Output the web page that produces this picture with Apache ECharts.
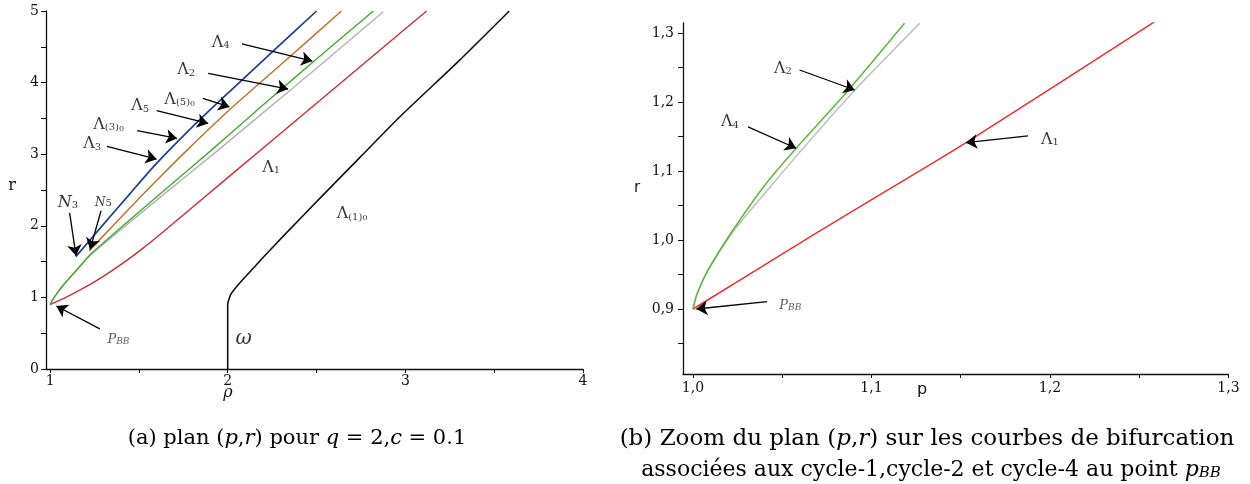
<!DOCTYPE html>
<html><head><meta charset="utf-8">
<script src="https://cdn.jsdelivr.net/npm/echarts@6/dist/echarts.min.js"></script>
<style>html,body{margin:0;padding:0;background:#fff}#c{width:1250px;height:484px}</style>
</head><body><div id="c"></div>
<script>
// ===== Panel (a): plan (p,r)
const aXLabels = [1, 2, 3, 4];
const aXTicks = [1, 1.5, 2, 2.5, 3, 3.5, 4];
const aYLabels = [0, 1, 2, 3, 4, 5];
const aYTicks = [0, 0.5, 1, 1.5, 2, 2.5, 3, 3.5, 4, 4.5, 5];

const aBlue  = [[1.145,1.57],[1.3,2.02],[1.45,2.45],[1.58,2.82],[1.7,3.13],[1.85,3.5],[2.0,3.85],[2.26,4.45],[2.5,5.0]];
const aBrown = [[1.22,1.65],[1.35,1.99],[1.5,2.38],[1.63,2.71],[1.764,3.04],[2.01,3.62],[2.335,4.33],[2.64,5.0]];
const aGreen = [[1,0.9],[1.0225,1.0],[1.079,1.186],[1.154,1.395],[1.229,1.605],[1.4,1.98],[1.65,2.51],[1.905,3.05],[2.2,3.69],[2.5,4.33],[2.82,5.0]];
const aGray  = [[1,0.9],[1.0225,0.998],[1.079,1.183],[1.154,1.39],[1.229,1.595],[1.4,1.95],[1.65,2.46],[1.943,3.05],[2.2,3.58],[2.5,4.2],[2.876,4.99]];
const aRed   = [[1,0.9],[1.1,1.015],[1.2,1.146],[1.3,1.295],[1.4,1.46],[1.5,1.643],[1.6,1.84],[2.0,2.672],[2.5,3.712],[3.0,4.752],[3.12,5.0]];
const aBlack = [[2,0],[2,0.9],[2.005,0.96],[2.018,1.045],[2.04,1.12],[2.093,1.27],[2.2,1.56],[2.318,1.87],[2.521,2.39],[2.75,2.97],[2.972,3.53],[3.3,4.3],[3.585,5.0]];

// annotation labels [p, r, text] and arrows [p1, r1, p2, r2]
const aNotes = [
  [1.96, 4.59, '{L|Λ}{s|4}'],
  [1.766, 4.2, '{L|Λ}{s|2}'],
  [1.73, 3.79, '{L|Λ}{s|(5)}{t|0}'],
  [1.507, 3.7, '{L|Λ}{s|5}'],
  [1.33, 3.44, '{L|Λ}{s|(3)}{t|0}'],
  [1.237, 3.17, '{L|Λ}{s|3}'],
  [2.245, 2.84, '{L|Λ}{s|1}'],
  [2.70, 2.19, '{L|Λ}{s|(1)}{t|0}'],
  [1.10, 2.35, '{N|N}{s|3}'],
  [1.30, 2.38, '{n|N}{s|5}'],
  [1.385, 0.44, '{P|P}{b|BB}'],
  [2.09, 0.42, '{w|ω}']
];
const aArrows = [
  [2.08, 4.54, 2.476, 4.30],
  [1.89, 4.13, 2.34, 3.91],
  [1.86, 3.78, 2.01, 3.66],
  [1.60, 3.61, 1.89, 3.43],
  [1.49, 3.33, 1.715, 3.22],
  [1.32, 3.11, 1.60, 2.93],
  [1.11, 2.18, 1.146, 1.58],
  [1.287, 2.21, 1.225, 1.67],
  [1.28, 0.56, 1.035, 0.88]
];

// ===== Panel (b): zoom near p_BB
const bXLabels = [1.0, 1.1, 1.2, 1.3];
const bXTicks = [1.0, 1.05, 1.1, 1.15, 1.2, 1.25, 1.3];
const bYLabels = [0.9, 1.0, 1.1, 1.2, 1.3];
const bYTicks = [0.85, 0.9, 0.95, 1.0, 1.05, 1.1, 1.15, 1.2, 1.25, 1.3];

const bGreen = [[1,0.9],[1.002,0.92],[1.0084,0.9565],[1.0224,1.0145],[1.041,1.082],[1.0578,1.133],[1.0877,1.219],[1.1185,1.314]];
const bGray  = [[1,0.9],[1.002,0.92],[1.0084,0.956],[1.0224,1.012],[1.043,1.076],[1.0597,1.127],[1.0906,1.217],[1.127,1.314]];
const bRed   = [[1,0.9],[1.069,1.01],[1.134,1.111],[1.153,1.141],[1.259,1.317]];

const bNotes = [
  [1.0504, 1.251, '{L|Λ}{s|2}'],
  [1.0207, 1.174, '{L|Λ}{s|4}'],
  [1.2, 1.148, '{L|Λ}{s|1}'],
  [1.0545, 0.908, '{P|P}{b|BB}']
];
const bArrows = [
  [1.0597, 1.2464, 1.0906, 1.2174],
  [1.0308, 1.164, 1.0578, 1.133],
  [1.1877, 1.151, 1.153, 1.141],
  [1.0415, 0.9106, 1.0019, 0.9]
];

const captionA = '{n|(a) plan (}{i|p}{n|,}{i|r}{n|) pour }{i|q}{n| = 2,}{i|c}{n| = 0.1}';
const captionB1 = '{n|(b) Zoom du plan (}{i|p}{n|,}{i|r}{n|) sur les courbes de bifurcation}';
const captionB2 = '{n|associées aux cycle-1,cycle-2 et cycle-4 au point }{i|p}{s|BB}';

// ===== build
const serif = 'DejaVu Serif';
const rich = {
  L: {fontFamily: serif, fontSize: 16, color: '#000', lineHeight: 20, verticalAlign: 'bottom'},
  N: {fontFamily: serif, fontStyle: 'italic', fontSize: 16, color: '#000', lineHeight: 20, verticalAlign: 'bottom'},
  n: {fontFamily: serif, fontStyle: 'italic', fontSize: 12, color: '#000', lineHeight: 20, verticalAlign: 'bottom'},
  s: {fontFamily: serif, fontSize: 10, color: '#000', lineHeight: 4, verticalAlign: 'bottom'},
  t: {fontFamily: serif, fontSize: 8, color: '#000', lineHeight: 0, verticalAlign: 'bottom'},
  P: {fontFamily: serif, fontStyle: 'italic', fontSize: 13, color: '#333', lineHeight: 18, verticalAlign: 'bottom'},
  b: {fontFamily: serif, fontStyle: 'italic', fontSize: 9, color: '#333', lineHeight: 4, verticalAlign: 'bottom'},
  w: {fontFamily: serif, fontStyle: 'italic', fontSize: 20, color: '#000'}
};

function lineS(data, color, xi, w) {
  return {type: 'line', data: data, xAxisIndex: xi, yAxisIndex: xi, showSymbol: false, smooth: 0.2,
    lineStyle: {color: color, width: w || 1.5}, clip: true, silent: true, animation: false, z: 2};
}
function notesS(data, xi) {
  return {type: 'scatter', data: data, xAxisIndex: xi, yAxisIndex: xi, symbolSize: 0, silent: true, animation: false,
    label: {show: true, position: 'inside', formatter: p => p.data[2], rich: rich}, z: 5};
}
function arrowS(data, xi) {
  return {type: 'lines', coordinateSystem: 'cartesian2d', xAxisIndex: xi, yAxisIndex: xi, silent: true, animation: false,
    symbol: ['none', 'arrow'], symbolSize: [7, 11],
    lineStyle: {color: '#000', width: 1.3, opacity: 1},
    data: data.map(a => ({coords: [[a[0], a[1]], [a[2], a[3]]]})), z: 4};
}
const fmtComma = v => (Math.round(v * 10) / 10).toFixed(1).replace('.', ',');

const axisLine = {show: true, onZero: false, lineStyle: {color: '#111', width: 1.3}};
const tickLab = {fontFamily: serif, fontSize: 14, color: '#111'};
const capN = {fontFamily: serif, color: '#111'};

const option = {
  backgroundColor: '#fff',
  animation: false,
  grid: [
    {left: 46, top: 11, width: 537, height: 358},
    {left: 683, top: 23, width: 545.5, height: 351}
  ],
  xAxis: [
    {type: 'value', gridIndex: 0, min: 0.977, max: 4, axisLine: axisLine, splitLine: {show: false},
      axisTick: {show: true, length: 4, customValues: aXTicks, lineStyle: {color: '#111'}},
      axisLabel: Object.assign({customValues: aXLabels, margin: 5}, tickLab)},
    {type: 'value', gridIndex: 1, min: 0.9944, max: 1.3, axisLine: axisLine, splitLine: {show: false},
      axisTick: {show: true, length: 4, customValues: bXTicks, lineStyle: {color: '#111'}},
      axisLabel: Object.assign({customValues: bXLabels, margin: 7, formatter: fmtComma}, tickLab)}
  ],
  yAxis: [
    {type: 'value', gridIndex: 0, min: 0, max: 5, axisLine: axisLine, splitLine: {show: false},
      axisTick: {show: true, length: 5, customValues: aYTicks, lineStyle: {color: '#111'}},
      axisLabel: Object.assign({customValues: aYLabels, margin: 7}, tickLab)},
    {type: 'value', gridIndex: 1, min: 0.8058, max: 1.3145, axisLine: axisLine, splitLine: {show: false},
      axisTick: {show: true, length: 5, customValues: bYTicks, lineStyle: {color: '#111'}},
      axisLabel: Object.assign({customValues: bYLabels, margin: 9, formatter: fmtComma}, tickLab)}
  ],
  graphic: [
    {type: 'text', x: 12, y: 186, style: {text: 'r', font: '16px "DejaVu Serif"', fill: '#111', align: 'center', verticalAlign: 'middle'}},
    {type: 'text', x: 228, y: 393, style: {text: 'ρ', font: 'italic 16px "DejaVu Serif"', fill: '#111', align: 'center', verticalAlign: 'middle'}},
    {type: 'text', x: 637, y: 188, style: {text: 'r', font: '15px "DejaVu Sans"', fill: '#111', align: 'center', verticalAlign: 'middle'}},
    {type: 'text', x: 922, y: 390, style: {text: 'p', font: '16px "DejaVu Sans"', fill: '#111', align: 'center', verticalAlign: 'middle'}},
    {type: 'text', x: 297, y: 439, style: {text: captionA, align: 'center', verticalAlign: 'middle',
      rich: {n: Object.assign({fontSize: 21}, capN), i: Object.assign({fontSize: 21, fontStyle: 'italic'}, capN)}}},
    {type: 'text', x: 927, y: 439, style: {text: captionB1, align: 'center', verticalAlign: 'middle',
      rich: {n: Object.assign({fontSize: 23}, capN), i: Object.assign({fontSize: 23, fontStyle: 'italic'}, capN)}}},
    {type: 'text', x: 931, y: 468, style: {text: captionB2, align: 'center', verticalAlign: 'middle',
      rich: {n: Object.assign({fontSize: 22, lineHeight: 26, verticalAlign: 'bottom'}, capN),
             i: Object.assign({fontSize: 22, fontStyle: 'italic', lineHeight: 26, verticalAlign: 'bottom'}, capN),
             s: Object.assign({fontSize: 15, fontStyle: 'italic', lineHeight: 9, verticalAlign: 'bottom'}, capN)}}}
  ],
  series: [
    lineS(aBlack, '#111', 0, 1.6),
    lineS(aRed, '#c9333a', 0),
    lineS(aGray, '#b4b4b4', 0),
    lineS(aGreen, '#4da83b', 0),
    lineS(aBrown, '#c0732f', 0),
    lineS(aBlue, '#1c3f8e', 0, 1.7),
    arrowS(aArrows, 0),
    notesS(aNotes, 0),
    lineS(bRed, '#f03030', 1),
    lineS(bGray, '#bdbdbd', 1),
    lineS(bGreen, '#5cb83c', 1),
    arrowS(bArrows, 1),
    notesS(bNotes, 1)
  ]
};
const chart = echarts.init(document.getElementById('c'), null, {renderer: 'canvas'});
chart.setOption(option);
</script></body></html>
